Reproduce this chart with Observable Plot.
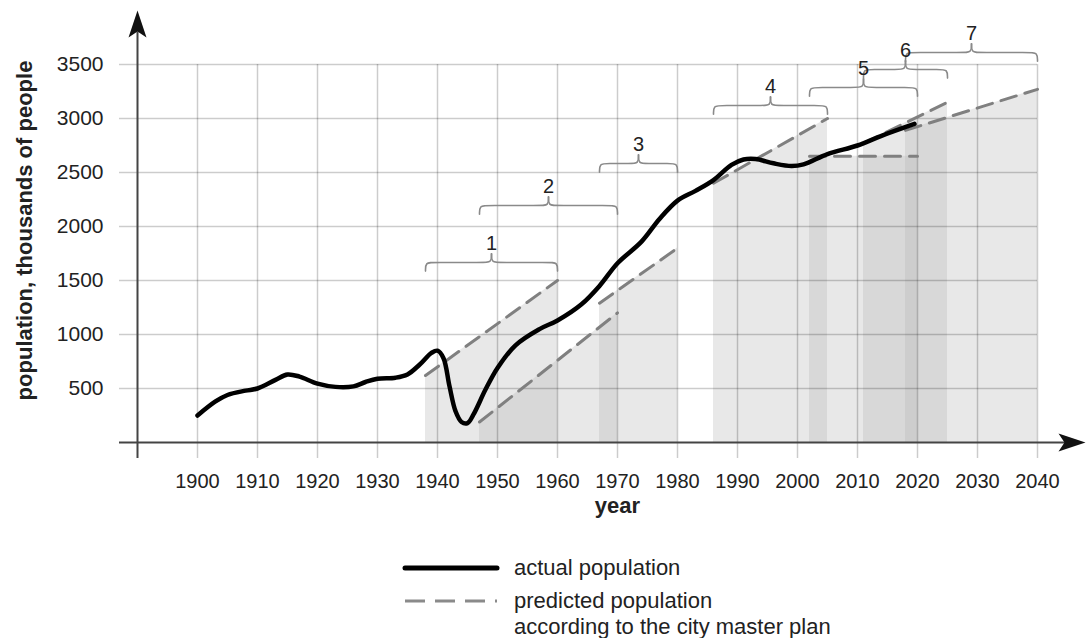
<!DOCTYPE html>
<html>
<head>
<meta charset="utf-8">
<script src="https://cdn.jsdelivr.net/npm/d3@7"></script>
<script src="https://cdn.jsdelivr.net/npm/@observablehq/plot@0.6"></script>
<style>
  body { margin: 0; background: #fff; }
  #wrap { position: relative; width: 1088px; height: 638px; font-family: "Liberation Sans", Arial, sans-serif; color: #222; }
  #chart svg { display: block; }
  .lg-text { position: absolute; font-size: 22px; line-height: 26px; white-space: nowrap; }
  .lg-line { position: absolute; }
</style>
</head>
<body>
<div id="wrap">
  <div id="chart"></div>
  <svg class="lg-line" style="left:400px; top:558px" width="100" height="52">
    <line x1="5" y1="10" x2="97" y2="10" stroke="#000" stroke-width="5" stroke-linecap="round"/>
    <line x1="5" y1="43" x2="97" y2="43" stroke="#8a8a8a" stroke-width="3" stroke-dasharray="20,10"/>
  </svg>
  <div class="lg-text" style="left:514px; top:555px">actual population</div>
  <div class="lg-text" style="left:514px; top:588px">predicted population<br>according to the city master plan</div>
</div>
<script>
// ---- data ----
const years  = [1900, 1903, 1905, 1908, 1910, 1913, 1915, 1917, 1920, 1923, 1926, 1928, 1930, 1933, 1935, 1937, 1939, 1940, 1941, 1942, 1943, 1944, 1945, 1946, 1948, 1950, 1953, 1957, 1960, 1964, 1967, 1970, 1974, 1977, 1980, 1983, 1986, 1989, 1991, 1993, 1996, 1999, 2001, 2005, 2010, 2014, 2019.5];
const actual = [250, 380, 440, 480, 500, 580, 630, 610, 545, 515, 520, 560, 590, 600, 630, 720, 830, 850, 780, 520, 290, 190, 180, 260, 490, 690, 900, 1050, 1130, 1280, 1450, 1660, 1860, 2070, 2240, 2330, 2430, 2570, 2620, 2625, 2585, 2560, 2575, 2670, 2750, 2840, 2950];

const periodId    = [1, 2, 3, 4, 5, 6, 7];
const periodStart = [1938, 1947, 1967, 1986, 2002, 2011, 2018];
const periodEnd   = [1960, 1970, 1980, 2005, 2020, 2025, 2040];
const predStart   = [620, 190, 1290, 2400, 2650, 2770, 2890];
const predEnd     = [1500, 1200, 1800, 3000, 2650, 3150, 3270];
const braceLevel  = [1667, 2194, 2583, 3120, 3287, 3454, 3611];

const xTicks = [1900, 1910, 1920, 1930, 1940, 1950, 1960, 1970, 1980, 1990, 2000, 2010, 2020, 2030, 2040];
const yTicks = [500, 1000, 1500, 2000, 2500, 3000, 3500];

const yTitle = "population, thousands of people";
const xTitle = "year";

// ---- derived tables ----
const actualData = years.map((x, i) => ({year: x, pop: actual[i]}));
const predData = periodId.flatMap((id, i) => [
  {id, year: periodStart[i], pop: predStart[i]},
  {id, year: periodEnd[i], pop: predEnd[i]}
]);
const curl = 80, corner = 1.3;
const braceData = periodId.flatMap((id, i) => {
  const s = periodStart[i], e = periodEnd[i], m = (s + e) / 2, L = braceLevel[i];
  return [
    ...[[s, L - curl], [s, L], [s + corner, L], [m - corner, L], [m, L], [m, L + curl]].map(([x, y]) => ({z: id + "a", x, y})),
    ...[[m, L + curl], [m, L], [m + corner, L], [e - corner, L], [e, L], [e, L - curl]].map(([x, y]) => ({z: id + "b", x, y}))
  ];
});

const stealth = {
  draw(ctx) {
    ctx.moveTo(0, 0);
    ctx.lineTo(9, 27);
    ctx.lineTo(0, 21);
    ctx.lineTo(-9, 27);
    ctx.closePath();
  }
};

const chart = Plot.plot({
  width: 1088,
  height: 530,
  marginLeft: 137,
  marginRight: 3,
  marginTop: 10,
  marginBottom: 88,
  x: {domain: [1890, 2048]},
  y: {domain: [0, 4000]},
  style: {fontFamily: "'Liberation Sans', Arial, sans-serif", color: "#222", background: "white", overflow: "visible"},
  marks: [
    Plot.areaY(predData, {x: "year", y: "pop", z: "id", fill: "#b3b3b3", fillOpacity: 0.3}),
    Plot.ruleX(xTicks, {y1: -148, y2: 3500, stroke: "#000", strokeOpacity: 0.2, strokeWidth: 1.5}),
    Plot.ruleY(yTicks, {x1: 1887, x2: 2040, stroke: "#000", strokeOpacity: 0.2, strokeWidth: 1.5}),
    Plot.axisX({ticks: xTicks, tickSize: 0, tickPadding: 31, tickFormat: d => String(d), fontSize: 20, label: null}),
    Plot.axisY({ticks: yTicks, tickSize: 0, tickPadding: 34, tickFormat: d => String(d), fontSize: 21, label: null}),
    Plot.ruleY([0], {x1: 1887, x2: 2045, stroke: "#444", strokeWidth: 2}),
    Plot.ruleX([1890], {y1: -148, y2: 3800, stroke: "#444", strokeWidth: 2}),
    Plot.dot([0], {x: 1890, y: 4000, symbol: stealth, fill: "#111", stroke: "none"}),
    Plot.dot([0], {x: 2048, y: 0, symbol: stealth, fill: "#111", stroke: "none", rotate: 90}),
    Plot.line(predData, {x: "year", y: "pop", z: "id", stroke: "#808080", strokeWidth: 3, strokeDasharray: "16,9"}),
    Plot.line(actualData, {x: "year", y: "pop", curve: "catmull-rom", stroke: "#000", strokeWidth: 4.5}),
    Plot.line(braceData, {x: "x", y: "y", z: "z", curve: "basis", stroke: "#8a8a8a", strokeWidth: 1.6}),
    Plot.text(periodId, {x: (d, i) => (periodStart[i] + periodEnd[i]) / 2, y: (d, i) => braceLevel[i], dy: -19, fontSize: 20, fill: "#222"}),
    Plot.text([yTitle], {frameAnchor: "left", textAnchor: "middle", rotate: -90, dx: -113, dy: 4, fontSize: 22, fontWeight: "bold", fill: "#222"}),
    Plot.text([xTitle], {x: () => 1970, frameAnchor: "bottom", dy: 70, fontSize: 22, fontWeight: "bold", fill: "#222"})
  ]
});
document.getElementById("chart").appendChild(chart);
</script>
</body>
</html>
